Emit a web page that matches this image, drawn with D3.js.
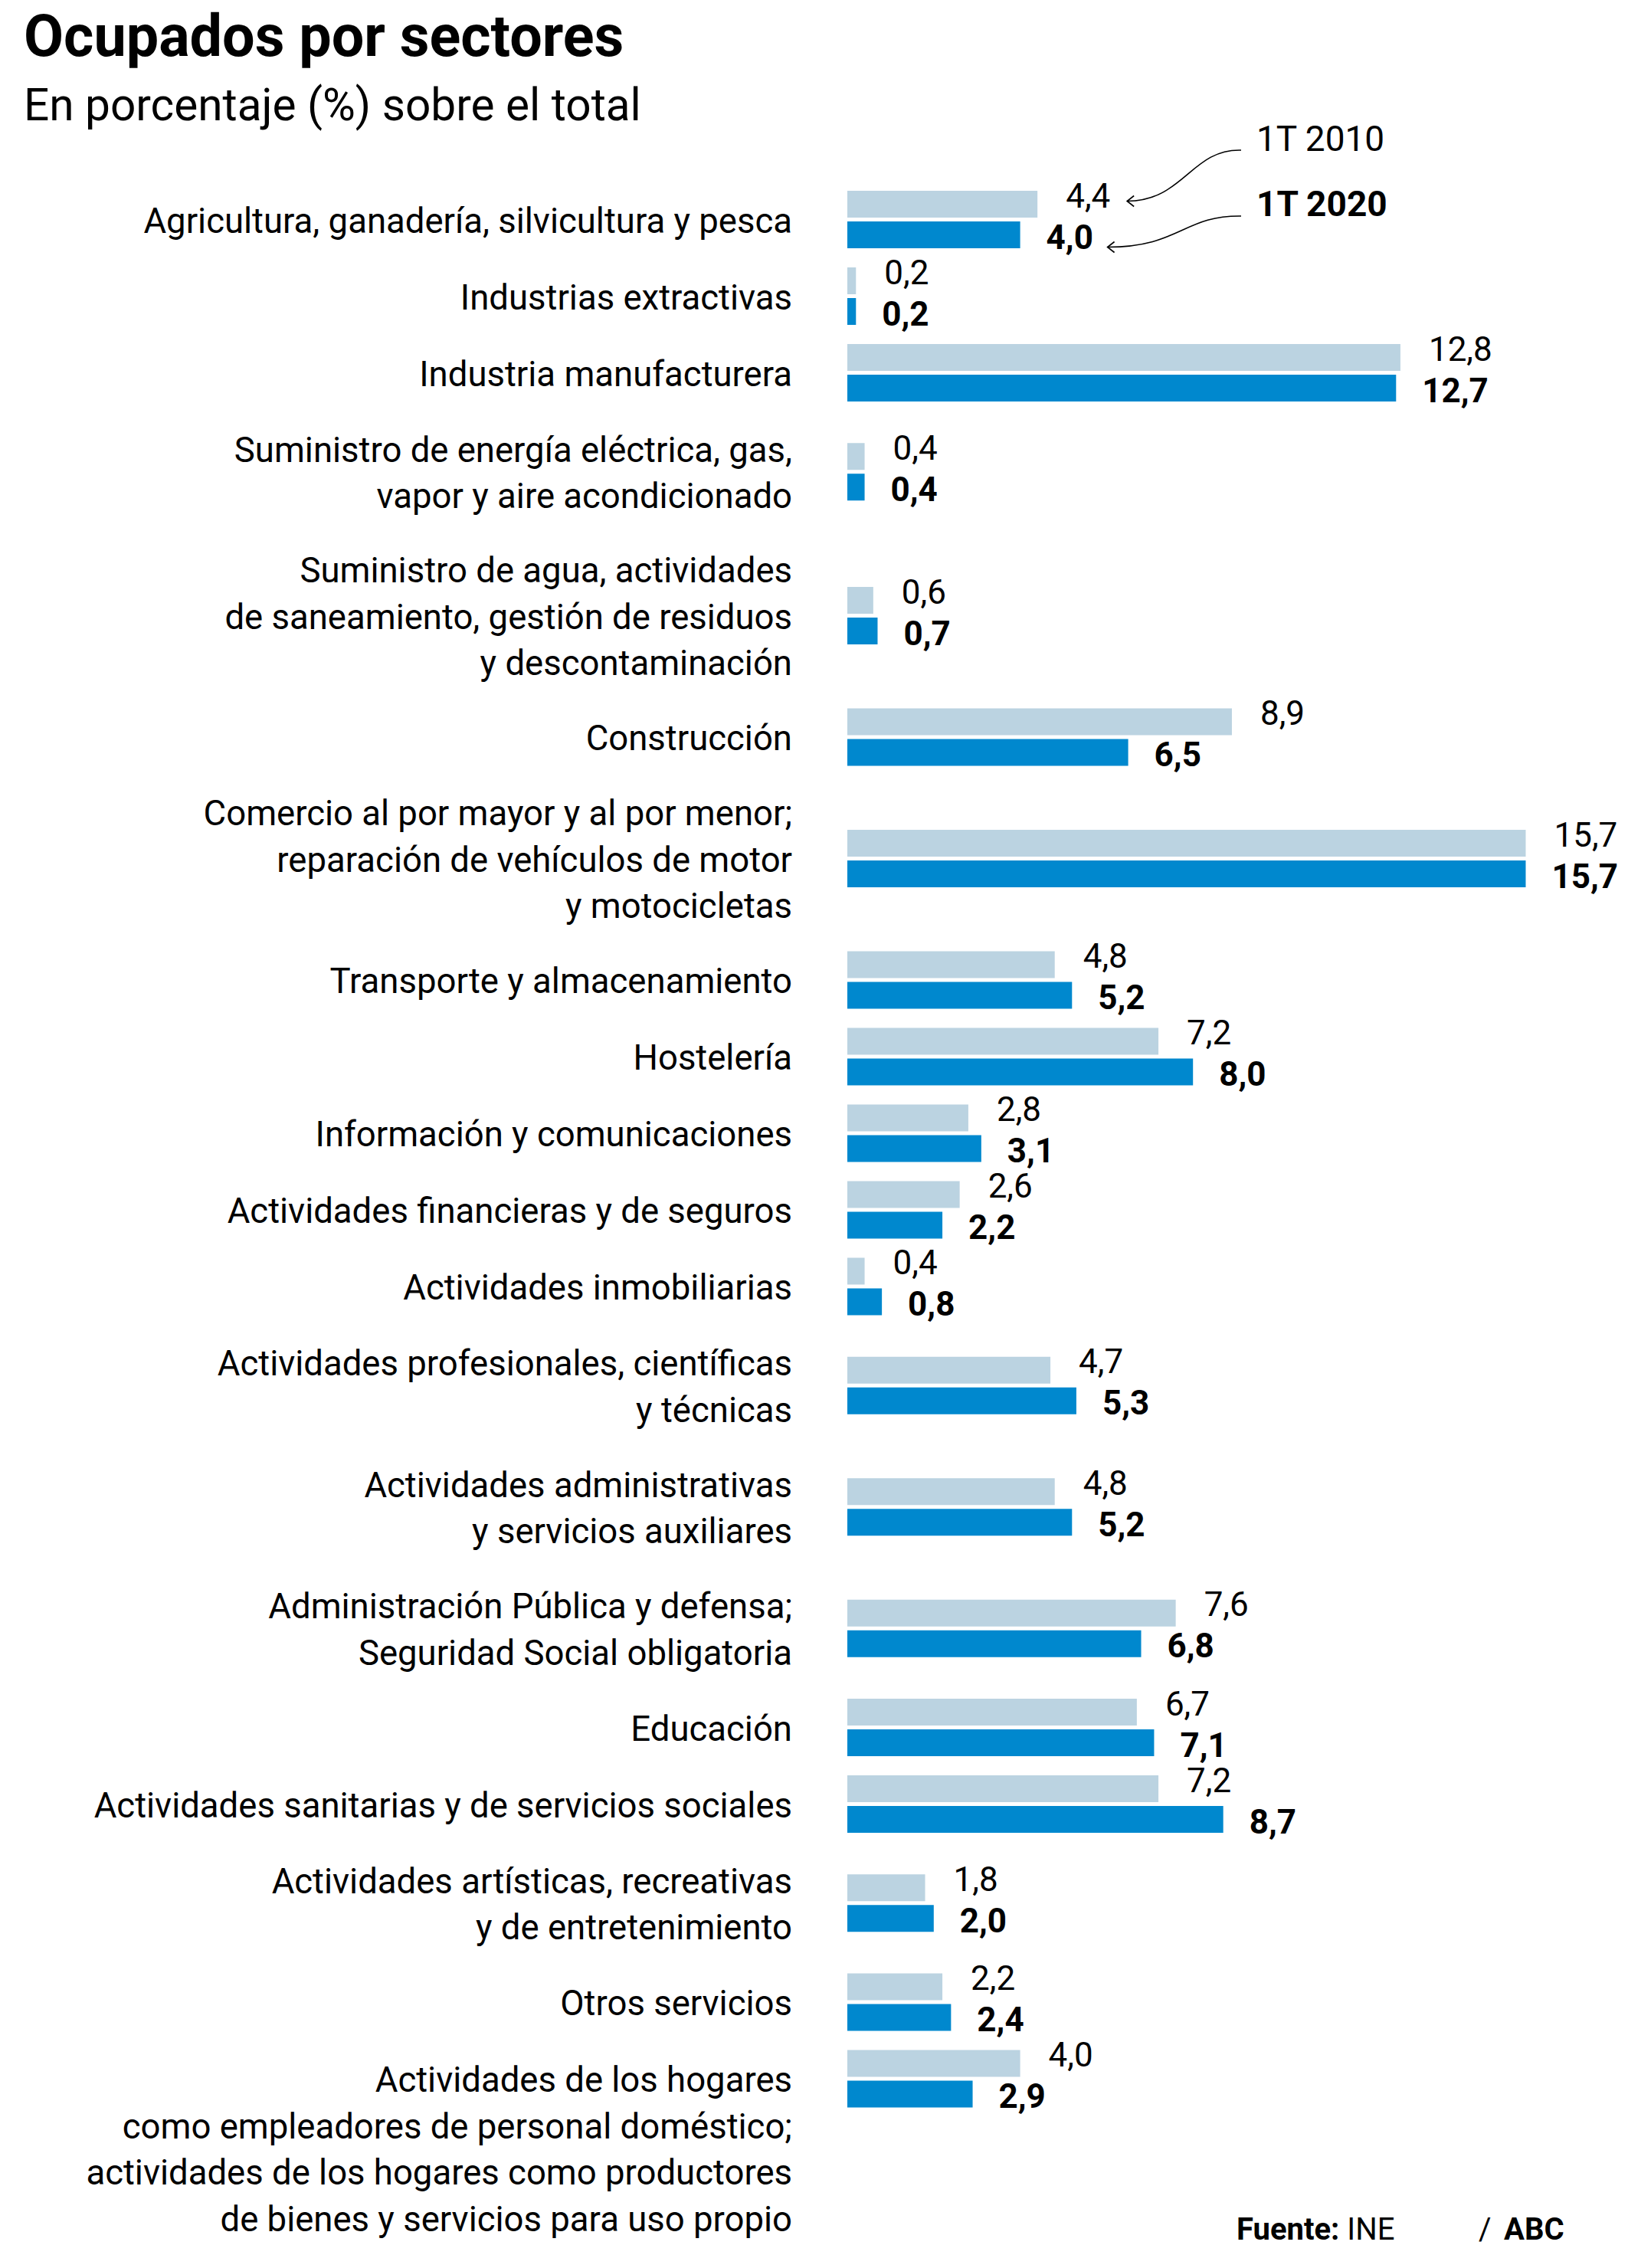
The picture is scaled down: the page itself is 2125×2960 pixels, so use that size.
<!DOCTYPE html>
<html>
<head>
<meta charset="utf-8">
<script src="https://cdn.jsdelivr.net/npm/d3@7"></script>
<style>
  html, body { margin: 0; padding: 0; background: #fff; }
  svg text { font-family: Roboto, "Noto Sans", sans-serif; fill: #000; }
</style>
</head>
<body>
<svg id="chart" width="2125" height="2960"></svg>
<script>
// ---- Data ----
const categories = [
  ["Agricultura, ganadería, silvicultura y pesca"],
  ["Industrias extractivas"],
  ["Industria manufacturera"],
  ["Suministro de energía eléctrica, gas,", "vapor y aire acondicionado"],
  ["Suministro de agua, actividades", "de saneamiento, gestión de residuos", "y descontaminación"],
  ["Construcción"],
  ["Comercio al por mayor y al por menor;", "reparación de vehículos de motor", "y motocicletas"],
  ["Transporte y almacenamiento"],
  ["Hostelería"],
  ["Información y comunicaciones"],
  ["Actividades financieras y de seguros"],
  ["Actividades inmobiliarias"],
  ["Actividades profesionales, científicas", "y técnicas"],
  ["Actividades administrativas", "y servicios auxiliares"],
  ["Administración Pública y defensa;", "Seguridad Social obligatoria"],
  ["Educación"],
  ["Actividades sanitarias y de servicios sociales"],
  ["Actividades artísticas, recreativas", "y de entretenimiento"],
  ["Otros servicios"],
  ["Actividades de los hogares", "como empleadores de personal doméstico;", "actividades de los hogares como productores", "de bienes y servicios para uso propio"]
];
const values2010 = [4.4, 0.2, 12.8, 0.4, 0.6, 8.9, 15.7, 4.8, 7.2, 2.8, 2.6, 0.4, 4.7, 4.8, 7.6, 6.7, 7.2, 1.8, 2.2, 4.0];
const values2020 = [4.0, 0.2, 12.7, 0.4, 0.7, 6.5, 15.7, 5.2, 8.0, 3.1, 2.2, 0.8, 5.3, 5.2, 6.8, 7.1, 8.7, 2.0, 2.4, 2.9];
const seriesNames = ["1T 2010", "1T 2020"];
const title = "Ocupados por sectores";
const subtitle = "En porcentaje (%) sobre el total";

// ---- Layout ----
const colLight = "#bbd3e1";
const colDark = "#0088ce";
const svg = d3.select("#chart");

const fmt = v => d3.format(".1f")(v).replace(".", ",");

// row heights in "row units": single line = 1, each extra label line adds 0.585
// rows with more than 3 lines keep bars at the first line (label overflows downward)
const rowUnits = categories.map(c => c.length > 3 ? 1 : 1 + 0.585 * (c.length - 1));
const centersU = [];
let acc = 0;
rowUnits.forEach((u, i) => {
  if (i > 0) acc += (rowUnits[i - 1] + u) / 2;
  centersU.push(acc);
});
const y = d3.scaleLinear().domain([0, 1]).range([286.5, 386.5]);
const x = d3.scaleLinear().domain([0, 15.7]).range([1106, 1106 + 15.7 * 56.4]);

const barH = 35, barGap = 5;
const labelRight = 1034;
const labelFs = 45.5, lineH = 60.5;
const valFs = 44;

// Title
svg.append("text").attr("x", 31).attr("y", 73)
  .style("font-size", "75.5px").style("font-weight", 700).text(title);
svg.append("text").attr("x", 31).attr("y", 157)
  .style("font-size", "58.5px").text(subtitle);

const rows = svg.append("g").selectAll("g").data(categories).join("g");

rows.each(function (lines, i) {
  const g = d3.select(this);
  const c = y(centersU[i]);
  // bars
  g.append("rect").attr("x", x(0)).attr("y", c - barGap / 2 - barH)
    .attr("width", x(values2010[i]) - x(0)).attr("height", barH).attr("fill", colLight);
  g.append("rect").attr("x", x(0)).attr("y", c + barGap / 2)
    .attr("width", x(values2020[i]) - x(0)).attr("height", barH).attr("fill", colDark);
  // values
  g.append("text").attr("x", x(values2010[i]) + 37).attr("y", c - 16)
    .style("font-size", valFs + "px").text(fmt(values2010[i]));
  g.append("text").attr("x", x(values2020[i]) + 34).attr("y", c + 38)
    .style("font-size", valFs + "px").style("font-weight", 700).text(fmt(values2020[i]));
  // category label
  const n = lines.length;
  const first = n > 3 ? c + 17 : c + 17 - (n - 1) * lineH / 2;
  const t = g.append("text").attr("text-anchor", "end").style("font-size", labelFs + "px");
  lines.forEach((ln, k) => {
    t.append("tspan").attr("x", labelRight).attr("y", first + k * lineH).text(ln);
  });
});

// Legend annotation
const leg = svg.append("g");
leg.append("text").attr("x", 1640).attr("y", 197).style("font-size", "46px").text(seriesNames[0]);
leg.append("text").attr("x", 1640).attr("y", 282).style("font-size", "46px").style("font-weight", 700).text(seriesNames[1]);

const c0 = y(centersU[0]);
const tip1 = [x(values2010[0]) + 37 + 80, c0 - 24];
const tip2 = [x(values2020[0]) + 34 + 80, c0 + 36];
const p1 = d3.path();
p1.moveTo(1620, 196);
p1.bezierCurveTo(1555, 194, 1545, tip1[1], tip1[0], tip1[1]);
const p2 = d3.path();
p2.moveTo(1620, 282);
p2.bezierCurveTo(1545, 281, 1540, tip2[1], tip2[0], tip2[1]);
[p1, p2].forEach(p => leg.append("path").attr("d", p.toString())
  .attr("fill", "none").attr("stroke", "#000").attr("stroke-width", 1.6));
[tip1, tip2].forEach(tp => {
  leg.append("path")
    .attr("d", `M${tp[0] + 9},${tp[1] - 7} L${tp[0]},${tp[1]} L${tp[0] + 9},${tp[1] + 7}`)
    .attr("fill", "none").attr("stroke", "#000").attr("stroke-width", 1.6);
});

// Footer
const foot = svg.append("text").attr("x", 1614).attr("y", 2923).style("font-size", "40px");
foot.append("tspan").style("font-weight", 700).text("Fuente: ");
foot.append("tspan").text("INE");
svg.append("text").attr("x", 1930).attr("y", 2923).style("font-size", "40px").text("/");
svg.append("text").attr("x", 1963).attr("y", 2923).style("font-size", "40px").style("font-weight", 700).text("ABC");
</script>
</body>
</html>
